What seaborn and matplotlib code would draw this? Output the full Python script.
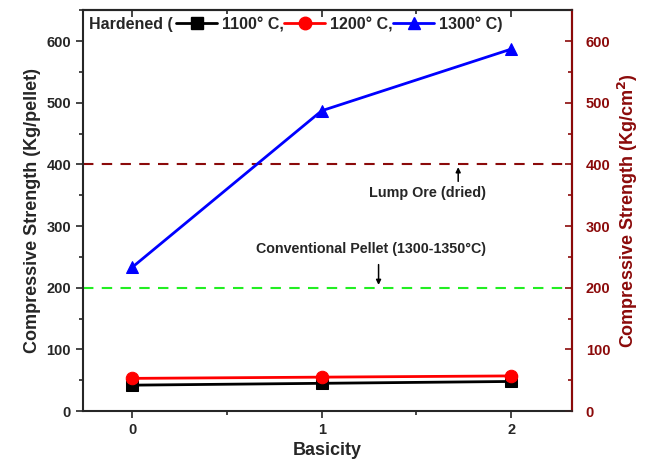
import pandas as pd
import seaborn as sns
import matplotlib.pyplot as plt
from matplotlib.ticker import MultipleLocator
from matplotlib.lines import Line2D

# values
basicity = [0, 1, 2]
s1100 = [42, 45, 48]
s1200 = [53, 55, 57]
s1300 = [233, 487, 587]
series_labels = ["1100° C,", "1200° C,", "1300° C)"]
lump_ore = 400
conv_pellet = 200

sns.set_theme(style="ticks")
plt.rcParams['font.family'] = ['Liberation Sans', 'DejaVu Sans']
plt.rcParams['font.weight'] = 'bold'
dark_red = "#8b0a0a"

df = pd.DataFrame({
    'Basicity': basicity * 3,
    'strength': s1100 + s1200 + s1300,
    'temp': [series_labels[0]] * 3 + [series_labels[1]] * 3 + [series_labels[2]] * 3,
})

fig, ax = plt.subplots(figsize=(6.47, 4.65), dpi=100)
fig.subplots_adjust(left=0.128, right=0.884, bottom=0.116, top=0.978)

colors = ["black", "red", "blue"]
markers = ["s", "o", "^"]
handles = []
for lab, c, m in zip(series_labels, colors, markers):
    sub = df[df['temp'] == lab]
    sns.lineplot(data=sub, x='Basicity', y='strength', color=c, marker=m,
                 markersize=9, markeredgecolor=c, lw=2, ax=ax, zorder=3)
    handles.append(Line2D([], [], color=c, marker=m, markersize=9, lw=2))

ax.axhline(lump_ore, color=dark_red, ls=(0, (5, 4)), lw=1.5)
ax.axhline(conv_pellet, color="#22ee22", ls=(0, (5, 4)), lw=1.5)

ax.annotate("", xy=(1.72, lump_ore), xytext=(1.72, 368),
            arrowprops=dict(arrowstyle="-|>", color="black", lw=1.1, mutation_scale=7))
ax.text(1.56, 353, "Lump Ore (dried)", ha='center', va='center', fontsize=10.4, fontweight='bold')
ax.annotate("", xy=(1.30, conv_pellet), xytext=(1.30, 242),
            arrowprops=dict(arrowstyle="-|>", color="black", lw=1.1, mutation_scale=7))
ax.text(1.26, 262, "Conventional Pellet (1300-1350°C)", ha='center', va='center',
        fontsize=10.3, fontweight='bold')

ax.set_xlim(-0.26, 2.32)
ax.set_ylim(0, 650)
ax.set_xticks(basicity)
ax.xaxis.set_minor_locator(MultipleLocator(0.5))
ax.yaxis.set_major_locator(MultipleLocator(100))
ax.yaxis.set_minor_locator(MultipleLocator(50))
ax.tick_params(axis='both', which='major', labelsize=10.5, length=5, width=1.2, direction='out')
ax.tick_params(axis='both', which='minor', length=3, width=1.2, direction='out')
for lbl in ax.get_xticklabels() + ax.get_yticklabels():
    lbl.set_fontweight('bold')
ax.set_xlabel("Basicity", fontsize=13, fontweight='bold')
ax.set_ylabel("Compressive Strength (Kg/pellet)", fontsize=13, fontweight='bold')
for sp in ax.spines.values():
    sp.set_linewidth(1.5)

# top axis ticks point inward
top = ax.secondary_xaxis('top')
top.set_xticks(basicity)
top.xaxis.set_minor_locator(MultipleLocator(0.5))
top.tick_params(which='major', direction='in', length=5, width=1.2, labeltop=False)
top.tick_params(which='minor', direction='in', length=3, width=1.2)
top.spines['top'].set_linewidth(1.5)

ax2 = ax.twinx()
ax2.set_ylim(0, 650)
ax2.yaxis.set_major_locator(MultipleLocator(100))
ax2.yaxis.set_minor_locator(MultipleLocator(50))
ax2.tick_params(axis='y', which='major', colors=dark_red, labelsize=10.5, length=5, width=1.2,
                direction='in', pad=10)
ax2.tick_params(axis='y', which='minor', colors=dark_red, length=3, width=1.2, direction='in')
for lbl in ax2.get_yticklabels():
    lbl.set_fontweight('bold')
ax2.spines['right'].set_color(dark_red)
ax2.spines['right'].set_linewidth(1.5)
ax2.set_ylabel("Compressive Strength (Kg/cm$^2$)", color=dark_red, fontsize=13, fontweight='bold')

ax.text(0.012, 0.965, "Hardened (", transform=ax.transAxes, ha='left', va='center',
        fontsize=11.5, fontweight='bold')
ax.legend(handles, series_labels, ncol=3, loc='center left', bbox_to_anchor=(0.19, 0.965),
          frameon=False, handlelength=2.6, handletextpad=0.3, columnspacing=0.0,
          borderaxespad=0, borderpad=0, prop={'weight': 'bold', 'size': 11.5})

fig.savefig("out.png", dpi=100)
